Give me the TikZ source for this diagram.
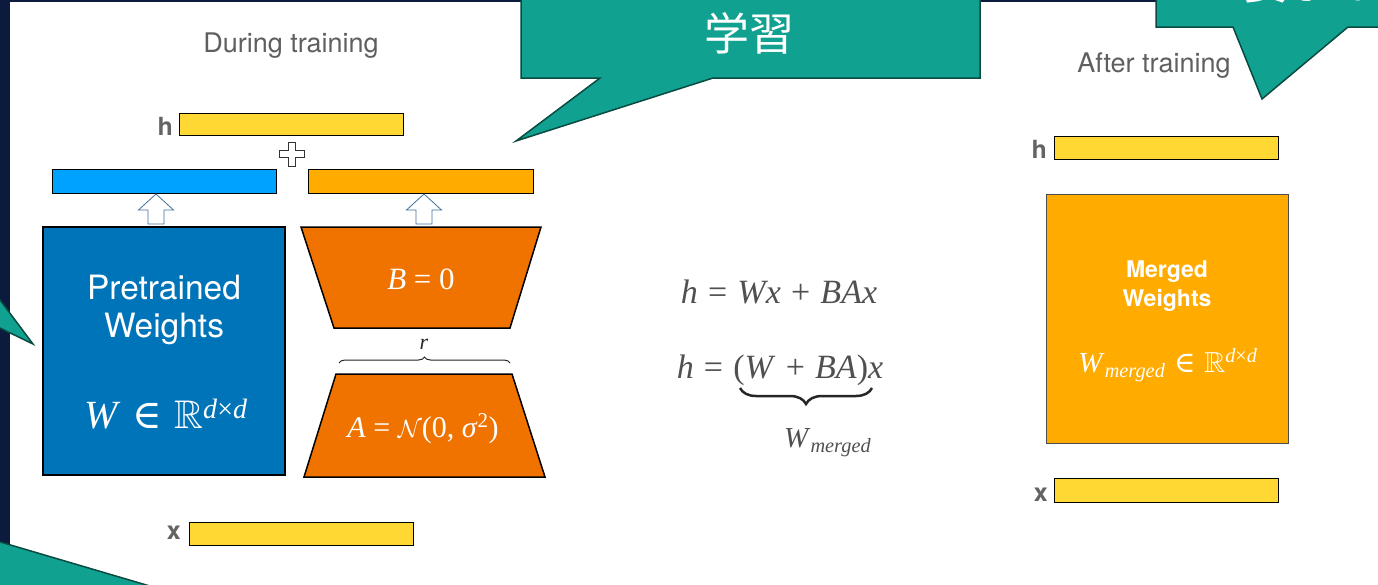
\documentclass[tikz,border=0pt]{standalone}
\usepackage{amsmath}
\usepackage{amssymb}
\usepackage[no-math]{fontspec}
\setmainfont{Liberation Serif}
\setsansfont{TeX Gyre Heros}
\newfontfamily\cjk{Noto Sans CJK JP}
\newfontfamily\dvs{DejaVu Serif}
\usetikzlibrary{decorations.pathreplacing}
\definecolor{navyc}{RGB}{12,27,61}
\definecolor{tealc}{RGB}{16,161,145}
\definecolor{tealdark}{RGB}{10,75,65}
\definecolor{yellowc}{RGB}{255,216,51}
\definecolor{bluebar}{RGB}{0,162,255}
\definecolor{orangebar}{RGB}{255,171,0}
\definecolor{bluebox}{RGB}{0,116,185}
\definecolor{orangetrap}{RGB}{240,115,0}
\definecolor{mergedc}{RGB}{255,171,0}
\definecolor{arrowblue}{RGB}{65,113,156}
\definecolor{captiongray}{RGB}{95,95,95}
\definecolor{labelgray}{RGB}{100,100,100}
\definecolor{eqgray}{RGB}{80,80,80}
\newcommand\supdd{\textsuperscript{\textit{d}×\textit{d}}}
\newcommand\submerged{\textsubscript{\textit{merged}}}
\newcommand\opsp[1]{\hspace{0.3em}#1\hspace{0.3em}}
\newcommand\elem{{\dvs\fontsize{0.85\dimexpr\f@size pt\relax}{1em}\selectfont ∈}}
\makeatletter
\renewcommand\elem{{\dvs ∈}}
\makeatother
\tikzset{
  barbox/.style={draw=black, line width=0.8pt, inner sep=0pt, minimum height=23pt, minimum width=224pt},
  lbltext/.style={font=\sffamily\bfseries\fontsize{25}{30}\selectfont, text=labelgray, inner sep=0pt},
  captext/.style={font=\sffamily\fontsize{27}{30}\selectfont, text=captiongray, inner sep=0pt},
  calloutshape/.style={fill=tealc, draw=tealdark, line width=1.5pt, line join=miter},
  hollowarrow/.style={fill=white, draw=arrowblue, line width=0.8pt},
  eqtext/.style={text=eqgray, inner sep=0pt, font=\fontsize{34}{40}\selectfont},
  wtext/.style={text=white, inner sep=0pt},
}
\begin{document}
\begin{tikzpicture}[x=1pt, y=-1pt]
\useasboundingbox (0,0) rectangle (1378,584);
\begin{scope}
\clip (0,0) rectangle (1378,584);
\fill[white] (0,0) rectangle (1378,584);
\fill[navyc] (0,0) rectangle (10,584);
\fill[navyc] (0,0) rectangle (1378,2);

% ---------- During training ----------
\node[captext, anchor=base] (dt) at (291,52) {During training};

\node[barbox, fill=yellowc, minimum height=22pt] (hbar) at (291,124) {};
\node[lbltext, anchor=base east] (hl) at (173,135) {h};

\draw[fill=white, draw=black!80, line width=0.7pt]
  (288,142) -- (295,142) -- (295,150.5) -- (304,150.5) -- (304,157.5) -- (295,157.5)
  -- (295,166) -- (288,166) -- (288,157.5) -- (279,157.5) -- (279,150.5) -- (288,150.5) -- cycle;

\node[barbox, fill=bluebar, minimum height=24pt] (bbar) at (164,181) {};
\node[barbox, fill=orangebar, minimum width=225pt, minimum height=24pt] (obar) at (420.5,181) {};

\foreach \cx in {156,424}{
  \draw[hollowarrow] (\cx,194) -- (\cx+17.5,210) -- (\cx+8,210) -- (\cx+8,224)
     -- (\cx-8,224) -- (\cx-8,210) -- (\cx-17.5,210) -- cycle;
}

\node[draw=black, line width=1.5pt, fill=bluebox, minimum width=242pt, minimum height=248pt, inner sep=0pt] (pw) at (164,351) {};
\node[wtext, font=\sffamily\fontsize{33.5}{38}\selectfont, anchor=base] (pt1) at (164,299) {Pretrained};
\node[wtext, font=\sffamily\fontsize{33.5}{38}\selectfont, anchor=base] (pt2) at (164,337) {Weights};
\node[wtext, font=\fontsize{40}{46}\selectfont, anchor=base] (wm) at (166,428) {\textit{W}\opsp{\elem}$\mathbb{R}$\supdd};

\path[draw=black, line width=1.5pt, fill=orangetrap] (301,227) -- (541,227) -- (510,328) -- (334,328) -- cycle;
\node[wtext, font=\fontsize{31}{36}\selectfont, anchor=base] (bt) at (421,289) {\textit{B} = 0};

\coordinate (rb1) at (339,363);
\coordinate (rb2) at (510,363);
\draw[decorate, decoration={brace, amplitude=6pt}, line width=1pt, black!85] (rb1) -- (rb2);
\node[inner sep=0pt, font=\itshape\fontsize{22}{24}\selectfont, text=black!85] (rl) at (424,344) {r};

\path[draw=black, line width=1.5pt, fill=orangetrap] (336,374) -- (512,374) -- (545,477) -- (304,477) -- cycle;
\node[wtext, font=\fontsize{30}{34}\selectfont, anchor=base] (at) at (423,437) {\textit{A} = $\mathcal{N}$(0, \textit{σ}\textsuperscript{2})};

\node[barbox, fill=yellowc] (xbar) at (301,533.5) {};
\node[lbltext, anchor=base east] (xl) at (181,539) {x};

% ---------- equations ----------
\node[eqtext, anchor=base] (e1) at (779,303) {\textit{h}\opsp{=}\textit{Wx}\opsp{+}\textit{BAx}};
\node[eqtext, anchor=base] (e2) at (780,378) {\textit{h}\opsp{=}(\textit{W}\opsp{+}\textit{BA})\textit{x}};
\coordinate (ub1) at (872,388);
\coordinate (ub2) at (740,388);
\draw[decorate, decoration={brace, amplitude=16pt}, line width=2.5pt, black!85] (ub1) -- (ub2);
\node[eqtext, font=\fontsize{29}{34}\selectfont, anchor=base west] (wl) at (784,447) {\textit{W}\submerged};

% ---------- After training ----------
\node[captext, anchor=base] (at2) at (1154,72) {After training};
\node[barbox, fill=yellowc] (hbar2) at (1166,147.5) {};
\node[lbltext, anchor=base east] (hl2) at (1047,158) {h};
\node[draw=black!70, line width=1pt, fill=mergedc, minimum width=242pt, minimum height=249pt, inner sep=0pt] (mw) at (1167,318.5) {};
\node[wtext, font=\sffamily\bfseries\fontsize{23}{28}\selectfont, anchor=base] (mt1) at (1167,277) {Merged};
\node[wtext, font=\sffamily\bfseries\fontsize{23}{28}\selectfont, anchor=base] (mt2) at (1167,306) {Weights};
\node[wtext, font=\fontsize{29}{34}\selectfont, anchor=base] (mm) at (1168,372) {\textit{W}\submerged\opsp{\elem}$\mathbb{R}$\supdd};
\node[barbox, fill=yellowc, minimum height=24pt] (xbar2) at (1166,490) {};
\node[lbltext, anchor=base east] (xl2) at (1048,501) {x};

% ---------- callouts ----------
\draw[calloutshape] (521,-10) -- (521,78) -- (600,78) -- (516,141) -- (713,78) -- (980,78) -- (980,-10) -- cycle;
\node[wtext, font=\cjk\fontsize{45}{50}\selectfont, anchor=base] (gk) at (749,50) {学習};

\draw[calloutshape] (1156,-10) -- (1156,27) -- (1233,27) -- (1262,99) -- (1348,27) -- (1400,27) -- (1400,-10) -- cycle;
\node[wtext, font=\cjk\fontsize{45}{50}\selectfont, anchor=base west] (tr) at (1243,-1) {要ポイント};

\draw[calloutshape] (-20,273.3) -- (33,344) -- (-20,318.3) -- cycle;
\draw[calloutshape] (-20,536) -- (160,589) -- (-20,600) -- cycle;
\end{scope}
\end{tikzpicture}
\end{document}
